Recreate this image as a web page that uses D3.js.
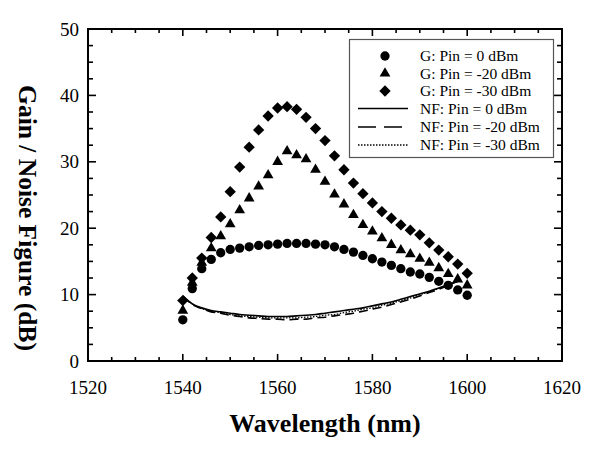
<!DOCTYPE html>
<html>
<head>
<meta charset="utf-8">
<script src="https://cdn.jsdelivr.net/npm/d3@7"></script>
<style>
  body { margin: 0; background: #fff; }
  svg { font-family: "Liberation Serif", "Times New Roman", serif; }
</style>
</head>
<body>
<div id="chart"></div>
<script>
const W = 589, H = 449;
const margin = { top: 29, left: 88, right: 27, bottom: 88 };

// wavelengths of the gain samples (nm)
const wl = [1540,1542,1544,1546,1548,1550,1552,1554,1556,1558,1560,1562,1564,1566,1568,
            1570,1572,1574,1576,1578,1580,1582,1584,1586,1588,1590,1592,1594,1596,1598,1600];

// gain (dB)
const gain0 = [6.2,10.9,13.9,15.3,16.3,16.8,17.0,17.2,17.4,17.5,17.6,17.7,17.7,17.7,17.6,
               17.5,17.2,16.8,16.4,15.9,15.4,14.9,14.4,13.9,13.4,13.1,12.6,12.0,11.4,10.7,9.9];
const gain20 = [7.6,11.8,14.8,17.0,18.8,20.6,22.7,24.5,26.3,28.0,30.0,31.6,31.0,30.4,28.8,
                27.0,25.1,23.6,22.0,20.5,19.5,18.5,17.5,16.7,16.1,15.4,14.8,14.0,13.1,12.3,11.4];
const gain30 = [9.1,12.5,15.5,18.6,21.7,25.5,29.2,32.2,34.8,36.9,38.1,38.3,37.9,36.7,35.0,
                33.2,30.9,28.8,26.8,25.2,23.8,22.5,21.5,20.5,19.7,19.0,17.8,16.7,15.7,14.6,13.2];

// noise figure (dB), 1540..1598 nm
const nfWl = wl.slice(0, 30);
const nf0  = [9.8,8.6,8.0,7.6,7.4,7.2,7.0,6.9,6.8,6.7,6.7,6.7,6.8,6.9,7.0,
              7.2,7.4,7.6,7.8,8.0,8.3,8.6,8.9,9.3,9.7,10.1,10.5,11.0,11.5,12.0];
const nf20 = [9.8,8.5,7.9,7.4,7.2,6.9,6.7,6.5,6.4,6.3,6.3,6.2,6.3,6.3,6.5,
              6.6,6.8,7.0,7.2,7.5,7.8,8.1,8.5,8.9,9.3,9.8,10.3,10.8,11.4,12.0];
const nf30 = [9.8,8.6,7.9,7.5,7.3,7.0,6.8,6.7,6.6,6.5,6.5,6.5,6.5,6.6,6.7,
              6.9,7.0,7.3,7.5,7.8,8.0,8.4,8.7,9.1,9.5,10.0,10.4,10.9,11.4,12.0];

const xTicks = [1520,1540,1560,1580,1600,1620];
const yTicks = [0,10,20,30,40,50];

const legendLabels = ["G: Pin = 0 dBm","G: Pin = -20 dBm","G: Pin = -30 dBm",
                      "NF: Pin = 0 dBm","NF: Pin = -20 dBm","NF: Pin = -30 dBm"];

const svg = d3.select("#chart").append("svg")
    .attr("width", W)
    .attr("height", H);

const x = d3.scaleLinear().domain([1520, 1620]).range([margin.left, W - margin.right]);
const y = d3.scaleLinear().domain([0, 50]).range([H - margin.bottom, margin.top]);

const x0 = margin.left, x1 = W - margin.right, y0 = H - margin.bottom, y1 = margin.top;

// minor + major ticks, pointing inward on all four sides
const ax = svg.append("g").attr("stroke", "#000").attr("stroke-width", 1.6);
d3.range(1520, 1621, 5).forEach(v => {
    const len = v % 20 === 0 ? 7 : 4;
    ax.append("line").attr("x1", x(v)).attr("x2", x(v)).attr("y1", y0).attr("y2", y0 - len);
    ax.append("line").attr("x1", x(v)).attr("x2", x(v)).attr("y1", y1).attr("y2", y1 + len);
});
d3.range(0, 50.1, 2.5).forEach(v => {
    const len = v % 10 === 0 ? 8 : 5;
    ax.append("line").attr("x1", x0).attr("x2", x0 + len).attr("y1", y(v)).attr("y2", y(v));
    ax.append("line").attr("x1", x1).attr("x2", x1 - len).attr("y1", y(v)).attr("y2", y(v));
});
svg.append("rect")
    .attr("x", x0).attr("y", y1)
    .attr("width", x1 - x0).attr("height", y0 - y1)
    .attr("fill", "none").attr("stroke", "#000").attr("stroke-width", 2);

// tick labels
svg.selectAll(".xlab").data(xTicks).enter().append("text")
    .attr("class", "xlab")
    .attr("x", d => x(d)).attr("y", y0 + 33)
    .attr("text-anchor", "middle").attr("font-size", 19)
    .text(d => d);
svg.selectAll(".ylab").data(yTicks).enter().append("text")
    .attr("class", "ylab")
    .attr("x", x0 - 9).attr("y", d => y(d) + 6.5)
    .attr("text-anchor", "end").attr("font-size", 19)
    .text(d => d);

// axis titles
svg.append("text")
    .attr("x", (x0 + x1) / 2).attr("y", 432)
    .attr("text-anchor", "middle").attr("font-size", 26).attr("font-weight", "bold")
    .text("Wavelength (nm)");
svg.append("text")
    .attr("transform", "translate(19,218) rotate(90)")
    .attr("text-anchor", "middle").attr("font-size", 25.5).attr("font-weight", "bold")
    .text("Gain / Noise Figure (dB)");

// noise figure lines
const line = d3.line()
    .x(d => x(d[0])).y(d => y(d[1]))
    .curve(d3.curveCatmullRom);
const nfStyles = [
    { data: nf0,  dash: null,      legDash: null,      w: 1.6 },
    { data: nf20, dash: "9,5",     legDash: "18,8",    w: 1.6 },
    { data: nf30, dash: "1.5,1.5", legDash: "1.5,1.5", w: 1.3 }
];
nfStyles.forEach(s => {
    svg.append("path")
        .datum(nfWl.map((w, i) => [w, s.data[i]]))
        .attr("d", line)
        .attr("fill", "none")
        .attr("stroke", "#000")
        .attr("stroke-width", s.w)
        .attr("stroke-dasharray", s.dash);
});

// gain markers
const circle = d3.symbol().type(d3.symbolCircle).size(68);
const tri = d3.symbol().type(d3.symbolTriangle).size(50);
const sq = d3.symbol().type(d3.symbolSquare).size(64);

function markers(vals, gen, rot) {
    svg.append("g").selectAll("path")
        .data(wl.map((w, i) => [w, vals[i]]))
        .enter().append("path")
        .attr("d", gen)
        .attr("fill", "#000")
        .attr("transform", d => `translate(${x(d[0])},${y(d[1])}) rotate(${rot})`);
}
markers(gain0, circle, 0);
markers(gain20, tri, 0);
markers(gain30, sq, 45);

// legend
const lg = svg.append("g");
lg.append("rect")
    .attr("x", 349.5).attr("y", 39.5).attr("width", 204).attr("height", 118)
    .attr("fill", "#fff").attr("stroke", "#555").attr("stroke-width", 1.2);
const rowY = [56, 73.5, 91, 108.5, 127, 145];
const symX = 385;
lg.append("path").attr("d", circle).attr("transform", `translate(${symX},${rowY[0]})`);
lg.append("path").attr("d", tri).attr("transform", `translate(${symX},${rowY[1]})`);
lg.append("path").attr("d", sq).attr("transform", `translate(${symX},${rowY[2]}) rotate(45)`);
nfStyles.forEach((s, i) => {
    lg.append("line")
        .attr("x1", 358).attr("x2", i === 1 ? 403 : 408)
        .attr("y1", rowY[3 + i]).attr("y2", rowY[3 + i])
        .attr("stroke", "#000").attr("stroke-width", s.w)
        .attr("stroke-dasharray", s.legDash);
});
lg.selectAll(".lt").data(legendLabels).enter().append("text")
    .attr("x", 420).attr("y", (d, i) => rowY[i] + 5)
    .attr("font-size", 15.5)
    .text(d => d);
</script>
</body>
</html>
